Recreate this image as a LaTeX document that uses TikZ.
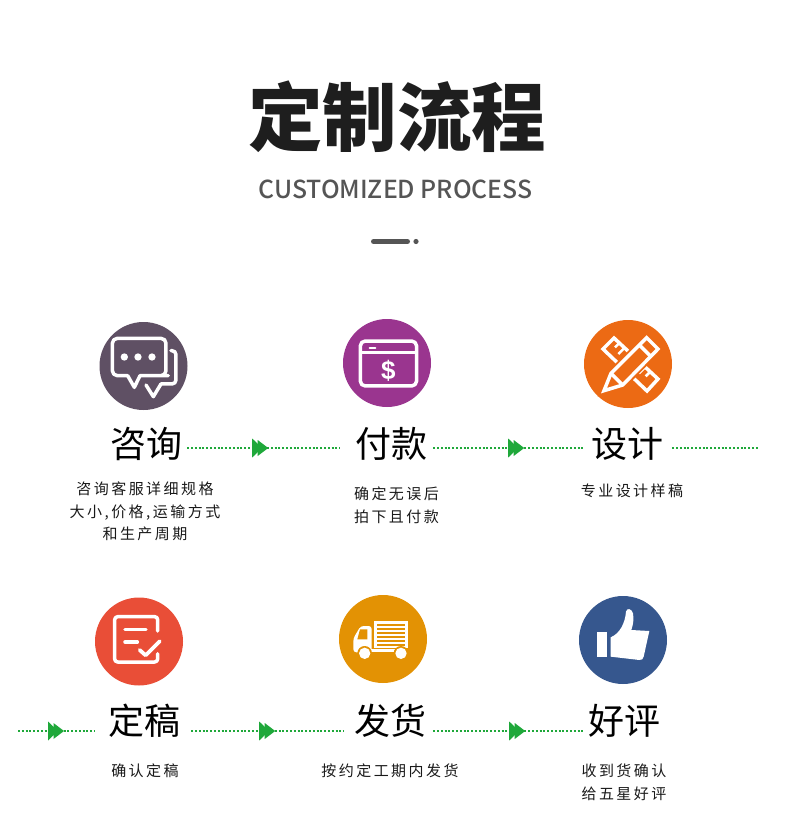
\documentclass[tikz,border=0pt]{standalone}
\usepackage{fontspec}
\usetikzlibrary{decorations.markings}
\setmainfont{Liberation Sans}
\newfontfamily\cjkfont{Noto Sans CJK SC}
\newfontfamily\midcjk{Noto Sans CJK SC Medium}
\newfontfamily\smallcjk[LetterSpace=16.5]{Noto Sans CJK SC}
\definecolor{flowgreen}{HTML}{1FA83A}
\definecolor{cGrey}{HTML}{5F5064}
\definecolor{cPurple}{HTML}{9A358F}
\definecolor{cOrange}{HTML}{EC6A14}
\definecolor{cRed}{HTML}{E94E37}
\definecolor{cYellow}{HTML}{E39204}
\definecolor{cBlue}{HTML}{36578E}
\definecolor{titleink}{HTML}{1E1E1E}
\definecolor{subink}{HTML}{555555}
\tikzset{
  disc/.style={circle,minimum size=88pt,inner sep=0pt,draw=none},
  steplabel/.style={font=\cjkfont\fontsize{36}{36}\selectfont,text=black,inner sep=0pt,text height=31pt,text depth=5pt},
  stepnote/.style={font=\smallcjk\fontsize{15}{22.5}\selectfont,text=black!90,inner sep=0pt,align=center},
  flowline/.style={flowgreen,line width=1.5pt,dash pattern=on 2pt off 1.8pt},
  flowtip/.style={flowline,postaction={decorate},decoration={markings,mark=at position #1pt with {
    \fill[flowgreen] (0,-9.5pt)--(10pt,0pt)--(0,9.5pt)--cycle;
    \fill[flowgreen] (5.5pt,-8pt)--(16pt,0pt)--(5.5pt,8pt)--cycle;}}},
  iconline/.style={draw=white,line width=3.5pt,line cap=round,line join=round},
}
\begin{document}
\begin{tikzpicture}[x=1pt,y=-1pt]
\useasboundingbox (0,0) rectangle (790,822);
% heading
\node[font=\cjkfont\bfseries\fontsize{74.5}{74.5}\selectfont,text=titleink,inner sep=0pt] (title) at (397,117) {定制流程};
\node[font=\midcjk\fontsize{24.8}{24.8}\selectfont,text=subink,inner sep=0pt] (sub) at (395.5,189) {CUSTOMIZED PROCESS};
\draw[subink,line width=5pt,line cap=round] (373.5,241.5) -- (407.5,241.5);
\fill[subink] (416,241.5) circle (2.6);
% discs
\node[disc,fill=cGrey] (d1) at (143.5,366) {};
\node[disc,fill=cPurple] (d2) at (387,363) {};
\node[disc,fill=cOrange] (d3) at (628,364) {};
\node[disc,fill=cRed] (d4) at (139,641.5) {};
\node[disc,fill=cYellow] (d5) at (383,639) {};
\node[disc,fill=cBlue] (d6) at (623,640) {};
% labels
\node[steplabel] (l1) at (146,444) {咨询};
\node[steplabel] (l2) at (391,444) {付款};
\node[steplabel] (l3) at (627,444) {设计};
\node[steplabel] (l4) at (144.5,721) {定稿};
\node[steplabel] (l5) at (390.5,721) {发货};
\node[steplabel] (l6) at (624.5,721) {好评};
% notes
\node[stepnote] (n1) at (145,511.5) {咨询客服详细规格\\大小,价格,运输方式\\和生产周期};
\node[stepnote] (n2) at (396.5,505.5) {确定无误后\\拍下且付款};
\node[stepnote] (n3) at (632,491) {专业设计样稿};
\node[stepnote] (n4) at (145,771) {确认定稿};
\node[stepnote] (n5) at (390,771) {按约定工期内发货};
\node[stepnote] (n6) at (624,782.5) {收到货确认\\给五星好评};
% connectors
\coordinate (endA) at (758,448);
\coordinate (startB) at (18,731);
\draw[flowtip=65] ([xshift=5pt,yshift=-4pt]l1.east) -- ([xshift=-15pt,yshift=-4pt]l2.west);
\draw[flowtip=75] ([xshift=6pt,yshift=-4pt]l2.east) -- ([xshift=-7pt,yshift=-4pt]l3.west);
\draw[flowline] ([xshift=9pt,yshift=-4pt]l3.east) -- (endA);
\draw[flowtip=30] (startB) -- ([xshift=-13.5pt,yshift=-10pt]l4.west);
\draw[flowtip=68] ([xshift=10.5pt,yshift=-10pt]l4.east) -- ([xshift=-10.5pt,yshift=-10pt]l5.west);
\draw[flowtip=76] ([xshift=6.5pt,yshift=-10pt]l5.east) -- ([xshift=-4.5pt,yshift=-10pt]l6.west);
% icon: chat
\begin{scope}[shift={(80,310)},x=.3333pt,y=-.3333pt]
  \draw[iconline,rounded corners=5pt] (180,197) -- (250,197) -- (258,197) -- (258,85) -- (97,85) -- (97,197) -- (143,197);
  \draw[iconline] (143,197) -- (163,232) -- (180,197);
  \draw[iconline,rounded corners=4pt] (273,122) -- (288,122) -- (288,222) -- (243,222);
  \draw[iconline] (243,222) -- (220,260) -- (198,225);
  \fill[white] (133,141) circle (11) (174,141) circle (11) (216,141) circle (11);
\end{scope}
% icon: payment window
\begin{scope}[shift={(80,310)},x=.3333pt,y=-.3333pt]
  \draw[iconline,rounded corners=5pt] (841,93) rectangle (1010,228);
  \draw[iconline,line cap=butt] (841,128) -- (1010,128);
  \draw[white,line width=2pt,line cap=round] (869,114) -- (886,114);
  \node[font=\bfseries\fontsize{26}{26}\selectfont,text=white,inner sep=0pt] (dollar) at (925,181) {\$};
\end{scope}
% icon: ruler and pencil
\begin{scope}[shift={(595,330)},x=.3333pt,y=-.3333pt]
  \draw[iconline,line join=miter] (57,24) -- (24,57) -- (156,183) -- (189,147) -- cycle;
  \draw[iconline,line width=2.6pt,line cap=butt] (73,39) -- (60,52) (88,54) -- (70,72) (103,68) -- (90,81)
     (135,98) -- (122,111) (150,112) -- (132,130) (165,126) -- (152,139);
  \fill[cOrange,draw=cOrange,line width=7.5pt,line join=miter] (155,23) -- (189,57) -- (83,165) -- (27,182) -- (48,130) -- cycle;
  \draw[iconline,line join=miter,fill=cOrange] (155,23) -- (189,57) -- (83,165) -- (27,182) -- (48,130) -- cycle;
  \draw[iconline,line cap=butt] (133,45) -- (167,79) (48,130) -- (83,165);
\end{scope}
% icon: confirmed form
\begin{scope}[shift={(105,607)},x=.3333pt,y=-.3333pt]
  \draw[iconline,rounded corners=3pt] (158,72) -- (158,29) -- (29,29) -- (29,165) -- (158,165) -- (158,140);
  \draw[iconline] (60,68) -- (123,68) (60,105) -- (97,105);
  \draw[iconline,line width=3.8pt] (104,129) -- (122,145) -- (164,103);
\end{scope}
% icon: truck
\begin{scope}[shift={(350,610)},x=.3333pt,y=-.3333pt]
  \fill[white] (73,33) rectangle (173,115);
  \draw[cYellow,line width=1.9pt] (82,46) -- (165,46) (82,58) -- (165,58) (82,70) -- (165,70) (82,82) -- (165,82) (82,94) -- (165,94) (82,105) -- (165,105);
  \fill[white,rounded corners=3pt] (65,48) -- (32,48) -- (10,85) -- (10,127) -- (65,127) -- cycle;
  \fill[white] (60,117) rectangle (137,125);
  \fill[cYellow] (30,58) -- (52,58) -- (52,88) -- (22,88) -- cycle;
  \fill[cYellow] (44,130) circle (22) (153,130) circle (22);
  \fill[white] (44,130) circle (17) (153,130) circle (17);
\end{scope}
% icon: thumb up
\begin{scope}[shift={(590,605)},x=.3333pt,y=-.3333pt]
  \fill[white] (22,82) rectangle (50,157);
  \fill[white] (62,155) -- (62,97) .. controls (90,85) and (105,55) .. (108,20)
     .. controls (110,8) and (125,10) .. (129,25) .. controls (133,45) and (128,62) .. (124,75)
     -- (178,78) -- (161,155) .. controls (160,163) and (155,165) .. (148,165) -- cycle;
\end{scope}
\end{tikzpicture}
\end{document}
